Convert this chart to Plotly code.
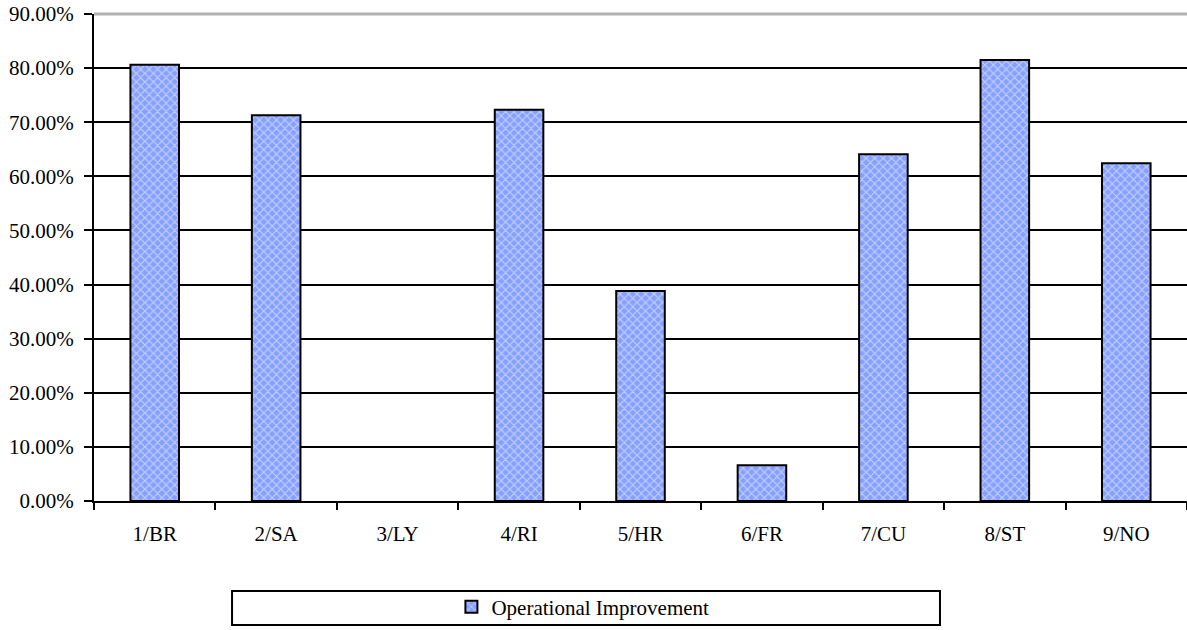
import plotly.graph_objects as go

categories = ["1/BR", "2/SA", "3/LY", "4/RI", "5/HR", "6/FR", "7/CU", "8/ST", "9/NO"]
improvement = [0.806, 0.713, 0.0, 0.723, 0.388, 0.066, 0.641, 0.815, 0.624]
series_name = "Operational Improvement"
y_ticks = [0, 0.1, 0.2, 0.3, 0.4, 0.5, 0.6, 0.7, 0.8, 0.9]

font = "Liberation Serif, Times New Roman, serif"
FS = 21

fig = go.Figure()
fig.add_trace(go.Bar(
    x=categories, y=improvement, name=series_name, width=0.4,
    marker=dict(
        color="#8ea6ff",
        line=dict(color="black", width=[0 if v == 0 else 2 for v in improvement]),
        pattern=dict(shape="x", fgcolor="white", bgcolor="#86a0ff", size=6, solidity=0.35, fillmode="overlay"),
    ),
    showlegend=True,
))

fig.update_layout(
    width=1187, height=630,
    margin=dict(l=94, r=0, t=14, b=129),
    paper_bgcolor="white", plot_bgcolor="white",
    font=dict(family=font, size=FS, color="black"),
    legend=dict(
        orientation="h", x=0.327, xanchor="left", y=-0.2177, yanchor="middle",
        font=dict(family=font, size=FS, color="black"),
        bgcolor="rgba(0,0,0,0)",
    ),
    shapes=[
        dict(type="rect", xref="paper", yref="paper", x0=0.1263, x1=0.774, y0=-0.1848, y1=-0.2546,
             line=dict(color="black", width=2), fillcolor="rgba(0,0,0,0)", layer="below"),
        dict(type="line", xref="paper", yref="paper", x0=0, x1=1, y0=1, y1=1,
             line=dict(color="#b0b0b0", width=3), layer="above"),
    ],
)

fig.update_xaxes(
    type="category", showline=True, linecolor="black", linewidth=2,
    ticks="outside", tickson="boundaries", ticklen=7, tickwidth=2, tickcolor="black",
    showgrid=False, tickfont=dict(family=font, size=FS), automargin=False,
    ticklabelstandoff=13,
)
fig.update_yaxes(
    range=[0, 0.9], tickvals=y_ticks, tickformat=".2%",
    showline=True, linecolor="black", linewidth=2,
    ticks="outside", ticklen=8, tickwidth=2, tickcolor="black",
    showgrid=True, gridcolor="black", gridwidth=2, zeroline=False,
    tickfont=dict(family=font, size=FS), automargin=False,
    ticklabelstandoff=6,
)

fig.write_html(
    "out.html",
    config={"displayModeBar": False},
    post_script="document.body.style.margin='0';document.body.style.overflow='hidden';",
)
